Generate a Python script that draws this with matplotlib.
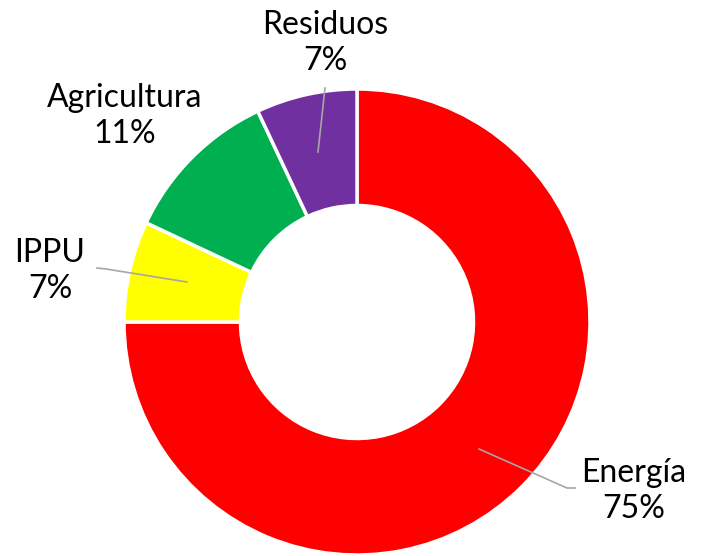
import matplotlib as mpl
mpl.use('Agg')
import matplotlib.pyplot as plt

# datos del gráfico
sectores = ['Energía', 'IPPU', 'Agricultura', 'Residuos']
porcentajes = [75, 7, 11, 7]
colores = ['#FF0000', '#FFFF00', '#00B050', '#7030A0']

# posiciones de etiquetas (px en la imagen) y líneas guía
etiquetas_px = [(634, 491), (50, 271), (125, 116), (325, 43)]
guias_px = [
    [(479, 449), (567, 488), (575, 488)],
    [(187, 282), (106, 269), (97, 268)],
    None,
    [(318, 152), (325, 88)],
]

plt.rcParams['font.family'] = ['Lato', 'DejaVu Sans']

fig = plt.figure(figsize=(7.02, 5.56), dpi=100)
ax = fig.add_axes([0, 0, 1, 1])

cx, cy, r = 357, 322, 233

def px2d(x, y):
    return (x - cx) / r, (cy - y) / r

ax.pie(porcentajes, colors=colores, startangle=90, counterclock=False,
       radius=1, wedgeprops=dict(width=0.5, edgecolor='white', linewidth=2.5))

for nombre, pct, (lx, ly), guia in zip(sectores, porcentajes, etiquetas_px, guias_px):
    x, y = px2d(lx, ly)
    ax.text(x, y, f'{nombre}\n{pct}%', ha='center', va='center',
            fontsize=23, linespacing=1.25, color='black')
    if guia:
        pts = [px2d(*p) for p in guia]
        ax.plot([p[0] for p in pts], [p[1] for p in pts], color='#A6A6A6', lw=1.2)

ax.set_xlim(-cx / r, (702 - cx) / r)
ax.set_ylim((cy - 556) / r, cy / r)
ax.set_aspect('equal')
ax.axis('off')

fig.savefig('out.png', dpi=100)
plt.close()
